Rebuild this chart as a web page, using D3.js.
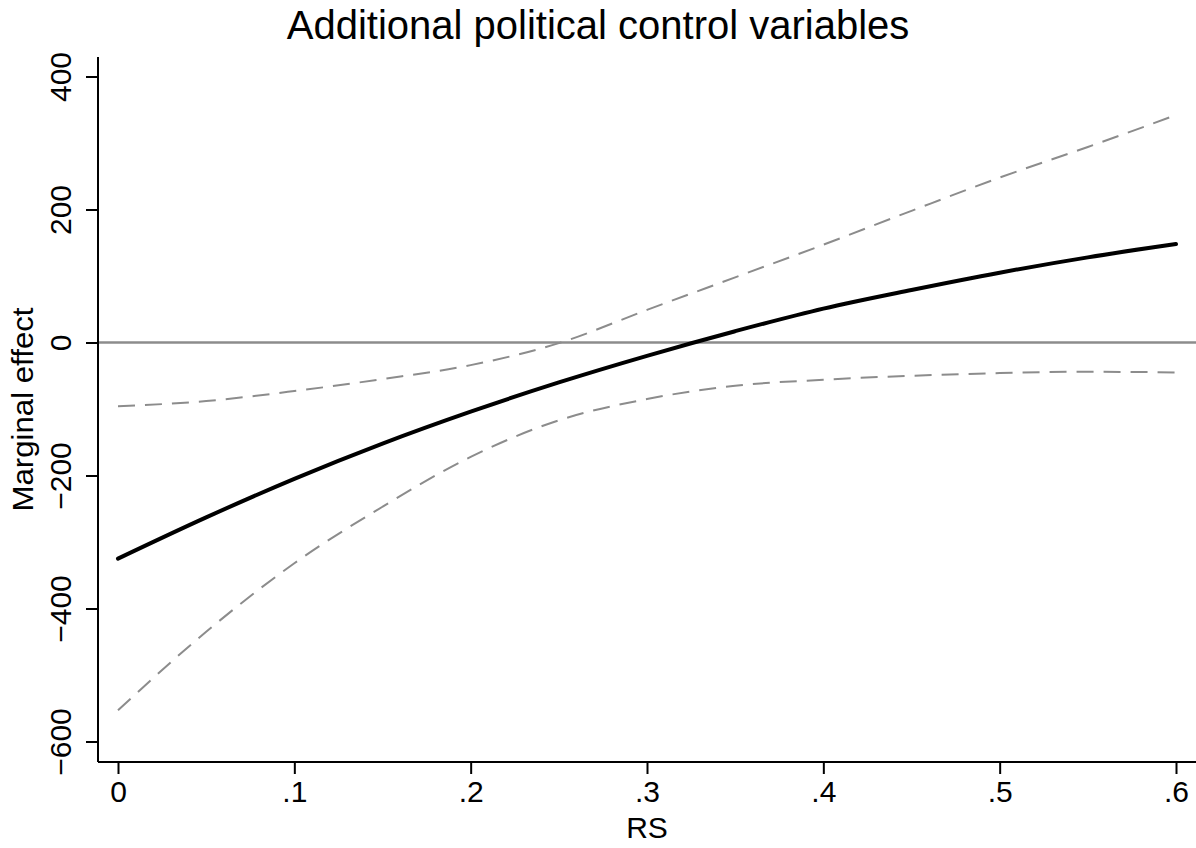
<!DOCTYPE html>
<html lang="en">
<head>
    <meta charset="UTF-8">
    <title>Additional political control variables</title>
    <script src="https://d3js.org/d3.v7.min.js"></script>
    <style>
        body {
            margin: 0;
            background: #fff;
            font-family: "Liberation Sans", Arial, sans-serif;
        }
        svg text {
            font-family: "Liberation Sans", Arial, sans-serif;
            fill: #000;
        }
    </style>
</head>
<body>
    <svg id="chart"></svg>

    <script>
        // Values
        const rs = [0, 0.05, 0.1, 0.15, 0.2, 0.25, 0.3, 0.35, 0.4, 0.45, 0.5, 0.55, 0.6];
        const effect = [-325, -263, -205, -152, -104, -60, -20, 17, 51, 79, 105, 128, 148];
        const upper = [-96, -88, -73, -55, -34, -1, 49, 98, 147, 198, 248, 294, 342];
        const lower = [-553, -435, -332, -247, -172, -117, -85, -65, -56, -50, -46, -44, -45];

        const xTicks = [0, 0.1, 0.2, 0.3, 0.4, 0.5, 0.6];
        const yTicks = [-600, -400, -200, 0, 200, 400];

        const width = 1196, height = 848;
        // plot frame (axis lines)
        const frame = { left: 98, right: 1196, top: 57, bottom: 762 };

        const svg = d3.select("#chart")
            .attr("width", width)
            .attr("height", height);

        const x = d3.scaleLinear()
            .domain([0, 0.6])
            .range([118, 1176]);

        const y = d3.scaleLinear()
            .domain([-600, 400])
            .range([741.5, 76.5]);

        // zero reference line
        svg.append("line")
            .attr("x1", frame.left)
            .attr("x2", frame.right)
            .attr("y1", y(0))
            .attr("y2", y(0))
            .attr("stroke", "#8c8c8c")
            .attr("stroke-width", 2.5);

        const line = d3.line()
            .x((d, i) => x(rs[i]))
            .y(d => y(d))
            .curve(d3.curveMonotoneX);

        // confidence bounds
        [upper, lower].forEach(series => {
            svg.append("path")
                .datum(series)
                .attr("fill", "none")
                .attr("stroke", "#8c8c8c")
                .attr("stroke-width", 2)
                .attr("stroke-dasharray", "17,10")
                .attr("d", line);
        });

        // marginal effect
        svg.append("path")
            .datum(effect)
            .attr("fill", "none")
            .attr("stroke", "#000")
            .attr("stroke-width", 4)
            .attr("stroke-linecap", "round")
            .attr("d", line);

        // X axis
        const fmtX = d => d === 0 ? "0" : d3.format(".1f")(d).replace(/^0/, "");
        const gx = svg.append("g")
            .attr("transform", `translate(0,${frame.bottom})`)
            .call(d3.axisBottom(x).tickValues(xTicks).tickFormat(fmtX)
                .tickSize(12).tickPadding(7));
        gx.select(".domain").remove();
        gx.selectAll("line").attr("stroke", "#000").attr("stroke-width", 2);
        gx.selectAll("text").attr("font-size", 30);

        // Y axis
        const gy = svg.append("g")
            .attr("transform", `translate(${frame.left},0)`)
            .call(d3.axisLeft(y).tickValues(yTicks).tickSize(12));
        gy.select(".domain").remove();
        gy.selectAll("line").attr("stroke", "#000").attr("stroke-width", 2);
        gy.selectAll("text")
            .attr("font-size", 30)
            .attr("text-anchor", "middle")
            .attr("transform", "rotate(-90)")
            .attr("x", 0)
            .attr("y", -27)
            .attr("dy", null);

        // axis lines
        svg.append("line")
            .attr("x1", frame.left).attr("x2", frame.right)
            .attr("y1", frame.bottom).attr("y2", frame.bottom)
            .attr("stroke", "#000").attr("stroke-width", 2);
        svg.append("line")
            .attr("x1", frame.left).attr("x2", frame.left)
            .attr("y1", frame.top).attr("y2", frame.bottom)
            .attr("stroke", "#000").attr("stroke-width", 2);

        // titles
        svg.append("text")
            .attr("x", width / 2)
            .attr("y", 39)
            .attr("text-anchor", "middle")
            .attr("font-size", 40)
            .text("Additional political control variables");

        svg.append("text")
            .attr("x", (frame.left + frame.right) / 2)
            .attr("y", 838)
            .attr("text-anchor", "middle")
            .attr("font-size", 30)
            .text("RS");

        svg.append("text")
            .attr("transform", `translate(33,${(frame.top + frame.bottom) / 2}) rotate(-90)`)
            .attr("text-anchor", "middle")
            .attr("font-size", 29)
            .attr("textLength", 204)
            .attr("lengthAdjust", "spacingAndGlyphs")
            .text("Marginal effect");
    </script>
</body>
</html>
